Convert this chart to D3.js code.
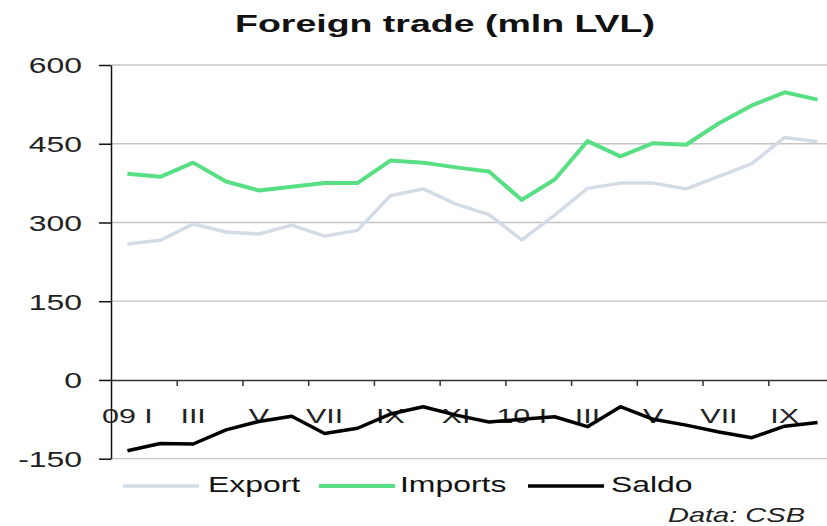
<!DOCTYPE html>
<html>
<head>
<meta charset="utf-8">
<script src="https://cdn.jsdelivr.net/npm/d3@7"></script>
<style>
  body { margin: 0; background: #fff; }
  svg { display: block; font-family: "Liberation Sans", Arial, sans-serif; }
</style>
</head>
<body>
<svg width="827" height="526"></svg>
<script>
// months Jan 2009 .. Oct 2010
var months = ["09 I","II","III","IV","V","VI","VII","VIII","IX","X","XI","XII",
              "10 I","II","III","IV","V","VI","VII","VIII","IX","X"];
var exportVals  = [259,266,297,282,278,295,274,285,351,364,335,315,267,314,365,375,375,364,388,412,462,454];
var importVals  = [393,387,414,378,361,368,375,375,418,414,405,397,343,382,455,426,451,448,489,523,548,534];
var saldoVals   = [-135,-121,-122,-95,-79,-69,-102,-92,-65,-51,-67,-80,-75,-70,-89,-51,-75,-86,-99,-110,-88,-81];
var yTicks = [-150, 0, 150, 300, 450, 600];
var seriesNames = ["Export", "Imports", "Saldo"];
var seriesColors = ["#d3dce6", "#58df84", "#000000"];

var svg = d3.select("svg");
var stretchX = 1.45;

// stretch text horizontally like the original picture
function stretch(sel, k)
{
    sel.each(function()
    {
        var w = this.getComputedTextLength();
        d3.select(this).attr("textLength", w * k).attr("lengthAdjust", "spacingAndGlyphs");
    });
}

var plotLeft = 111, plotRight = 834, plotTop = 65, plotBottom = 458.7;

var y = d3.scaleLinear().domain([-150, 600]).range([plotBottom, plotTop]);
var xBand = d3.scaleBand().domain(d3.range(months.length)).range([plotLeft, plotRight]);
var xEdge = d3.scaleLinear().domain([0, months.length]).range([plotLeft, plotRight]);
var xMid = function(i){ return xBand(i) + xBand.bandwidth() / 2; };

//Gridlines
svg.append("g").selectAll("line")
    .data(yTicks.filter(function(d){ return d != 0; }))
    .enter()
    .append("line")
    .attr("x1", plotLeft).attr("x2", plotRight)
    .attr("y1", function(d){ return y(d); })
    .attr("y2", function(d){ return y(d); })
    .style("stroke", "#c4c4c4")
    .style("stroke-width", 1.3);

//YAxis
var yaxis = d3.axisLeft(y).tickValues(yTicks).tickSize(12).tickPadding(17).tickSizeOuter(0)
    .tickFormat(function(d){ return String(d); });
var yg = svg.append("g").attr("transform", "translate(" + plotLeft + ",0)").call(yaxis);
yg.select(".domain").style("stroke", "#111").style("stroke-width", 1.5);
yg.selectAll(".tick line").style("stroke", "#111").style("stroke-width", 1.5);
yg.selectAll("text").style("font-size", "22px").style("fill", "#222").attr("dy", "0.36em");
stretch(yg.selectAll("text"), stretchX);

//XAxis (zero line with ticks every two months)
var xaxis = d3.axisBottom(xEdge).tickValues(d3.range(2, months.length, 2)).tickSize(6).tickFormat("").tickSizeOuter(0);
var xg = svg.append("g").attr("transform", "translate(0," + y(0) + ")").call(xaxis);
xg.select(".domain").style("stroke", "#333").style("stroke-width", 1.5);
xg.selectAll(".tick line").style("stroke", "#333").style("stroke-width", 1.5);

//XAxis labels
var labels = svg.append("g").selectAll("text")
    .data(d3.range(0, months.length, 2))
    .enter()
    .append("text")
    .attr("x", function(i){ return xMid(i); })
    .attr("y", 423)
    .style("text-anchor", "middle")
    .style("font-size", "21px")
    .style("fill", "#222")
    .text(function(i){ return months[i]; });
stretch(labels, stretchX);

//Lines
var line = function(vals)
{
    return d3.line()
        .x(function(d, i){ return xMid(i); })
        .y(function(d){ return y(d); })(vals);
};
var allVals = [exportVals, importVals, saldoVals];
var widths = [3.5, 4, 3.5];
allVals.forEach(function(vals, k)
{
    svg.append("path")
        .attr("d", line(vals))
        .style("fill", "none")
        .style("stroke", seriesColors[k])
        .style("stroke-width", widths[k])
        .style("stroke-linejoin", "round");
});

//Legend
var legendX = [123, 319, 528];
var legendTextX = [208, 400, 611];
seriesNames.forEach(function(name, k)
{
    svg.append("line")
        .attr("x1", legendX[k]).attr("x2", legendX[k] + 76)
        .attr("y1", 486).attr("y2", 486)
        .style("stroke", seriesColors[k])
        .style("stroke-width", widths[k]);
    var t = svg.append("text")
        .attr("x", legendTextX[k])
        .attr("y", 492)
        .style("font-size", "22px")
        .style("fill", "#111")
        .text(name);
    stretch(t, stretchX);
});

//Title
var title = svg.append("text")
    .attr("x", 235)
    .attr("y", 32)
    .style("font-size", "23px")
    .style("font-weight", "bold")
    .style("fill", "#111")
    .text("Foreign trade (mln LVL)");
title.attr("textLength", 420).attr("lengthAdjust", "spacingAndGlyphs");

//Source
var src = svg.append("text")
    .attr("x", 668)
    .attr("y", 522)
    .style("font-size", "21px")
    .style("font-style", "italic")
    .style("fill", "#222")
    .text("Data: CSB");
src.attr("textLength", 137).attr("lengthAdjust", "spacingAndGlyphs");
</script>
</body>
</html>
